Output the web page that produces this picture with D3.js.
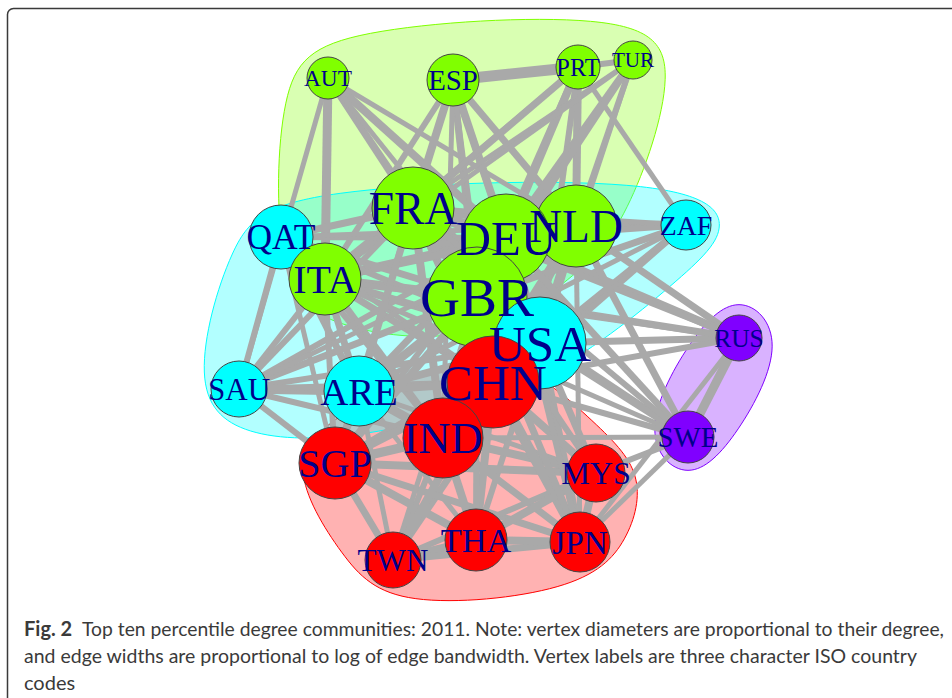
<!DOCTYPE html>
<html>
<head>
<meta charset="utf-8">
<script src="https://cdn.jsdelivr.net/npm/d3@7"></script>
<style>
  html, body { margin: 0; padding: 0; background: #ffffff; }
  svg { display: block; }
</style>
</head>
<body>
<svg id="chart" width="952" height="698"></svg>
<script>
// Vertices: ISO3 code, community, degree and layout coordinates (layout units, -1..1)
const countries = ["AUT","ESP","PRT","TUR","QAT","ITA","FRA","NLD","DEU","GBR","USA","CHN","IND","ARE","SAU","SGP","TWN","THA","JPN","MYS","ZAF","RUS","SWE"];
const community = [1,1,1,1,2,1,1,1,1,1,2,0,0,2,2,0,0,0,0,0,2,3,3];
const degree    = [63,78,66,57,96,108,123,123,132,150,138,138,120,105,84,108,84,93,90,87,75,69,78];
const layoutX   = [-0.644,-0.144,0.356,0.576,-0.832,-0.656,-0.304,0.348,0.068,-0.048,0.204,0.016,-0.184,-0.52,-1.0,-0.616,-0.384,-0.052,0.364,0.428,0.788,1.0,0.796];
const layoutY   = [0.928,0.92,0.972,1.0,0.292,0.124,0.408,0.336,0.288,0.052,-0.132,-0.288,-0.512,-0.324,-0.316,-0.612,-1.0,-0.92,-0.928,-0.652,0.34,-0.112,-0.508];

// Edges: [from, to, log bandwidth]
const edges = [
  ["AUT","ITA",9],["AUT","DEU",8],["AUT","GBR",6],["AUT","NLD",5],["AUT","FRA",6],["AUT","SAU",5],["AUT","USA",5],
  ["ESP","PRT",11],["ESP","FRA",8],["ESP","DEU",8],["ESP","GBR",7],["ESP","NLD",7],["ESP","ITA",6],["ESP","USA",6],["ESP","CHN",5],["ESP","IND",5],
  ["PRT","TUR",6],["PRT","FRA",7],["PRT","DEU",8],["PRT","NLD",8],["PRT","GBR",7],["PRT","ITA",5],["PRT","USA",6],["PRT","ZAF",5],
  ["TUR","DEU",7],["TUR","NLD",6],["TUR","GBR",7],["TUR","FRA",5],["TUR","USA",5],["TUR","ITA",5],
  ["FRA","DEU",11],["FRA","GBR",11],["FRA","NLD",10],["FRA","ITA",10],["FRA","USA",10],["FRA","CHN",8],["FRA","IND",8],
  ["DEU","NLD",12],["DEU","GBR",12],["DEU","ITA",9],["DEU","USA",11],["DEU","CHN",9],["DEU","IND",8],
  ["NLD","GBR",11],["NLD","ITA",8],["NLD","USA",10],["NLD","CHN",8],["NLD","IND",7],
  ["GBR","ITA",9],["GBR","USA",12],["GBR","CHN",10],["GBR","IND",10],
  ["ITA","USA",8],["ITA","CHN",7],["ITA","IND",7],
  ["USA","CHN",12],["USA","IND",10],["CHN","IND",10],
  ["QAT","SAU",6],["QAT","ARE",7],["QAT","ITA",7],["QAT","FRA",7],["QAT","GBR",7],["QAT","DEU",6],["QAT","USA",6],["QAT","IND",6],["QAT","CHN",5],["QAT","NLD",5],["QAT","SGP",5],
  ["SAU","ARE",9],["SAU","ITA",6],["SAU","FRA",6],["SAU","GBR",7],["SAU","DEU",6],["SAU","USA",6],["SAU","CHN",6],["SAU","IND",6],["SAU","SGP",6],["SAU","NLD",5],
  ["ARE","GBR",8],["ARE","FRA",7],["ARE","ITA",7],["ARE","DEU",7],["ARE","USA",8],["ARE","CHN",8],["ARE","IND",9],["ARE","SGP",8],["ARE","NLD",6],["ARE","THA",5],["ARE","MYS",5],["ARE","TWN",5],
  ["ZAF","NLD",9],["ZAF","GBR",7],["ZAF","USA",7],["ZAF","CHN",6],["ZAF","IND",6],["ZAF","DEU",6],["ZAF","FRA",5],["ZAF","ARE",5],
  ["USA","SGP",8],["USA","JPN",9],["USA","TWN",7],["USA","THA",6],["USA","MYS",7],
  ["SGP","IND",9],["SGP","CHN",8],["SGP","TWN",7],["SGP","THA",8],["SGP","JPN",7],["SGP","MYS",8],["SGP","GBR",8],["SGP","FRA",6],["SGP","ITA",6],["SGP","DEU",6],
  ["IND","TWN",6],["IND","THA",8],["IND","JPN",7],["IND","MYS",8],
  ["CHN","TWN",8],["CHN","THA",8],["CHN","JPN",10],["CHN","MYS",8],
  ["TWN","THA",8],["TWN","JPN",7],["TWN","MYS",6],["THA","JPN",8],["THA","MYS",8],["JPN","MYS",8],
  ["GBR","THA",6],["GBR","JPN",7],["GBR","MYS",6],["GBR","TWN",5],["DEU","JPN",6],["NLD","JPN",5],
  ["RUS","SWE",9],["RUS","NLD",7],["RUS","DEU",8],["RUS","GBR",7],["RUS","USA",7],["RUS","CHN",6],["RUS","FRA",6],["RUS","ITA",5],["RUS","JPN",5],
  ["SWE","NLD",7],["SWE","DEU",7],["SWE","GBR",7],["SWE","USA",7],["SWE","FRA",6],["SWE","CHN",6],["SWE","IND",5],["SWE","MYS",6],["SWE","JPN",5],["SWE","ITA",5]
];

// Community palette (rainbow of four groups)
const groupColors = ["#FF0000","#80FF00","#00FFFF","#8000FF"];

const captionBold = "Fig. 2";
const captionLines = [
  "Top ten percentile degree communities: 2011. Note: vertex diameters are proportional to their degree,",
  "and edge widths are proportional to log of edge bandwidth. Vertex labels are three character ISO country",
  "codes"
];

const svg = d3.select("#chart");

// Panel frame
svg.append("rect")
  .attr("x", 7.5).attr("y", 8.5)
  .attr("width", 980).attr("height", 720)
  .attr("rx", 6).attr("ry", 6)
  .attr("fill", "#ffffff")
  .attr("stroke", "#3a3a3a").attr("stroke-width", 1.5);

const x = d3.scaleLinear().domain([-1, 1]).range([239, 739]);
const y = d3.scaleLinear().domain([-1, 1]).range([560, 60]);
const r = d3.scaleLinear().domain([0, 150]).range([0, 50]);
const fontSize = d3.scaleLinear().domain([0, 150]).range([0, 55.5]);
const edgeWidth = d3.scaleLinear().domain([0, 12]).range([0, 12]);

const nodes = countries.map((c, i) => ({
  id: c, group: community[i], degree: degree[i],
  px: x(layoutX[i]), py: y(layoutY[i])
}));
const byId = new Map(nodes.map(n => [n.id, n]));

// Community hulls, expanded around each member and smoothed
const pad = 50;
const hullLine = d3.line().curve(d3.curveBasisClosed);
const gHull = svg.append("g");
d3.range(groupColors.length).forEach(g => {
  const pts = [];
  nodes.filter(n => n.group === g).forEach(n => {
    pts.push([n.px, n.py], [n.px - pad, n.py], [n.px + pad, n.py], [n.px, n.py - pad], [n.px, n.py + pad]);
  });
  const hull = d3.polygonHull(pts);
  const col = d3.color(groupColors[g]);
  gHull.append("path")
    .attr("d", hullLine(hull))
    .attr("fill", col.copy({opacity: 0.3}).toString())
    .attr("stroke", groupColors[g])
    .attr("stroke-width", 1);
});

// Edges
svg.append("g").selectAll("line").data(edges).join("line")
  .attr("x1", d => byId.get(d[0]).px).attr("y1", d => byId.get(d[0]).py)
  .attr("x2", d => byId.get(d[1]).px).attr("y2", d => byId.get(d[1]).py)
  .attr("stroke", "#A9A9A9")
  .attr("stroke-width", d => edgeWidth(d[2]));

// Vertices
svg.append("g").selectAll("circle").data(nodes).join("circle")
  .attr("cx", d => d.px).attr("cy", d => d.py)
  .attr("r", d => r(d.degree))
  .attr("fill", d => groupColors[d.group])
  .attr("stroke", "#444").attr("stroke-width", 1);

// Vertex labels
svg.append("g").selectAll("text").data(nodes).join("text")
  .attr("x", d => d.px).attr("y", d => d.py)
  .attr("text-anchor", "middle")
  .attr("dominant-baseline", "central")
  .attr("font-family", "'Liberation Serif', 'Times New Roman', serif")
  .attr("font-size", d => fontSize(d.degree))
  .attr("fill", "#00008B")
  .text(d => d.id);

// Caption
const cap = svg.append("g")
  .attr("font-family", "Lato, 'Open Sans', sans-serif")
  .attr("font-size", 19)
  .attr("fill", "#3a3a3a");
cap.append("text").attr("x", 24).attr("y", 636)
  .attr("font-size", 20)
  .attr("font-weight", "bold").text(captionBold);
cap.append("text").attr("x", 82).attr("y", 636)
  .attr("textLength", 862).attr("lengthAdjust", "spacingAndGlyphs")
  .text(captionLines[0]);
cap.append("text").attr("x", 24).attr("y", 663)
  .attr("textLength", 893).attr("lengthAdjust", "spacingAndGlyphs")
  .text(captionLines[1]);
cap.append("text").attr("x", 24).attr("y", 690)
  .attr("font-size", 20)
  .text(captionLines[2]);
</script>
</body>
</html>
